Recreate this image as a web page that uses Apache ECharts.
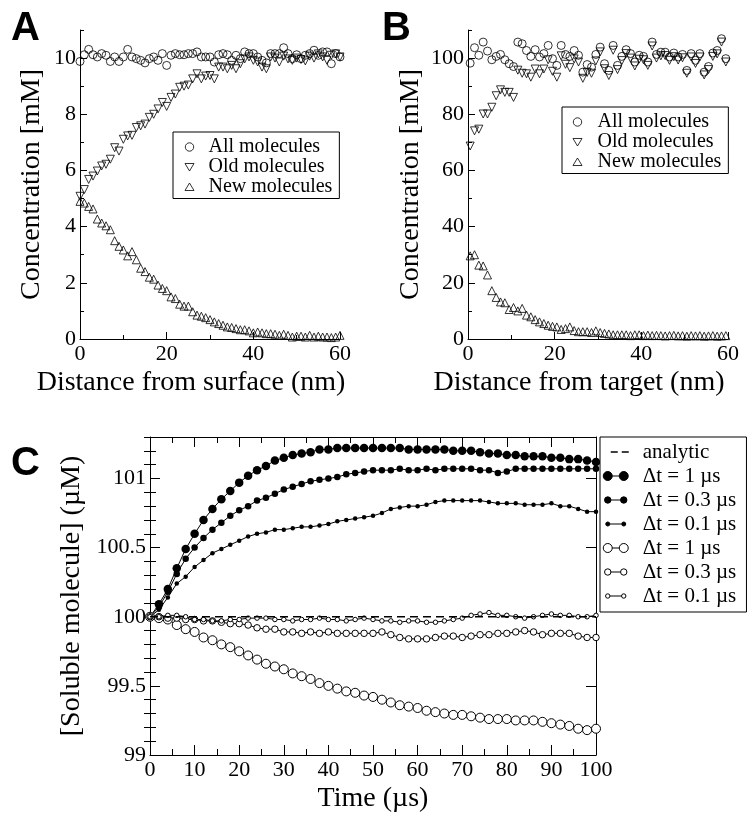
<!DOCTYPE html>
<html><head><meta charset="utf-8">
<script src="https://cdn.jsdelivr.net/npm/echarts@6/dist/echarts.min.js"></script>
<style>html,body{margin:0;padding:0;background:#fff}#c{width:752px;height:821px}</style>
</head><body><div id="c"></div>
<script>
// ---------- Panel A (distance from surface) ----------
const distA = [0,1,2,3,4,5,6,7,8,9,10,11,12,13,14,15,16,17,18,19,20,21,22,23,24,25,26,27,28,29,30,31,32,33,34,35,36,37,38,39,40,41,42,43,44,45,46,47,48,49,50,51,52,53,54,55,56,57,58,59,60];
const allA = [9.88,10.12,10.31,10.12,10.04,10.16,10.10,9.88,10.04,9.88,10.04,10.31,10.04,9.98,9.92,9.83,9.98,10.04,9.92,10.16,9.74,10.10,10.16,10.12,10.12,10.16,10.16,10.22,10.04,10.04,10.04,9.86,10.12,10.16,10.12,9.92,10.10,9.98,10.22,10.16,10.16,10.04,9.92,9.83,10.16,10.16,10.16,10.37,10.16,9.98,10.12,9.98,10.10,10.16,10.28,10.10,10.22,10.22,9.80,10.16,10.04];
const oldA = [5.08,5.32,5.68,5.80,5.98,6.16,6.22,6.40,6.81,6.69,7.11,7.23,7.25,7.53,7.59,7.65,7.89,8.00,8.19,8.42,8.28,8.60,8.72,8.96,9.00,9.04,9.26,9.44,9.26,9.36,9.38,9.26,9.68,9.68,9.62,9.74,9.62,9.80,9.97,10.04,9.92,9.86,9.68,9.62,10.04,10.00,9.86,10.07,9.97,9.92,10.00,9.95,9.90,10.07,10.00,10.15,10.04,9.92,10.10,10.15,10.04];
const newA = [4.90,4.84,4.72,4.63,4.27,4.13,4.03,3.89,3.50,3.30,3.17,2.96,3.11,2.82,2.52,2.40,2.20,2.13,1.92,1.80,1.72,1.50,1.44,1.24,1.17,1.17,0.97,0.85,0.81,0.76,0.69,0.61,0.55,0.49,0.43,0.41,0.37,0.33,0.33,0.29,0.22,0.25,0.22,0.19,0.19,0.17,0.13,0.17,0.13,0.07,0.10,0.10,0.07,0.13,0.07,0.10,0.07,0.07,0.05,0.07,0.13];
const ticksAx = [0,20,40,60], minorAx = [10,30,50];
const ticksAy = [0,2,4,6,8,10], minorAy = [1,3,5,7,9,11];

// ---------- Panel B (distance from target) ----------
const distB = [0.5,1.5,2.5,3.5,4.5,5.5,6.5,7.5,8.5,9.5,10.5,11.5,12.5,13.5,14.5,15.5,16.5,17.5,18.5,19.5,20.5,21.5,22.5,23.5,24.5,25.5,26.5,27.5,28.5,29.5,30.5,31.5,32.5,33.5,34.5,35.5,36.5,37.5,38.5,39.5,40.5,41.5,42.5,43.5,44.5,45.5,46.5,47.5,48.5,49.5,50.5,51.5,52.5,53.5,54.5,55.5,56.5,57.5,58.5,59.5];
const allB = [98.2,103.7,101,105.7,102.5,99.4,100.6,101.3,99.4,98,97,105.7,105.1,102.7,100.6,103,100.4,101.6,104.5,99.8,97.4,104.5,101.3,100.6,102.7,101,95,97.7,96.8,101.3,103.9,98,95.6,104.5,97.4,100.6,103,101.6,98.6,101,100.6,98.6,105.7,101.3,102.1,102.1,100.4,101.8,100.4,101.3,95.6,101.6,99.2,101.6,95,97,101.8,102.7,106.9,99.8];
const oldB = [68.7,74.1,74.7,80.1,80.1,82.5,86.6,88.7,87.8,87.8,86.0,95.7,94.6,94.4,93.2,96.1,94.4,96.1,99.4,95.3,93.2,100.8,97.8,96.6,99.7,98.6,92.8,94.9,94.6,99.0,102.2,96.2,93.8,102.8,95.9,99.1,101.6,100.0,97.2,99.6,99.4,97.4,104.3,100.0,100.8,100.9,99.2,100.5,99.3,100.1,94.6,100.4,98.1,100.4,94.0,95.9,100.6,101.5,105.7,98.6];
const newB = [29.6,30.0,26.3,26.0,22.8,17.2,14.8,13.2,12.9,10.5,11.2,10.0,10.9,8.5,7.9,6.9,6.1,5.5,4.9,4.5,4.3,3.4,3.7,4.3,3.0,2.6,2.6,2.6,2.3,2.9,2.3,2.0,1.8,1.5,1.5,1.5,1.5,1.2,1.5,1.5,1.2,1.4,1.2,1.3,1.2,1.1,1.2,1.3,1.1,1.2,1.0,1.2,1.1,1.2,1.0,1.1,1.2,1.0,1.1,1.2];
const ticksBx = [0,20,40,60], minorBx = [10,30,50];
const ticksBy = [0,20,40,60,80,100], minorBy = [10,30,50,70,90,110];

// ---------- Panel C (time course) ----------
const tC = [0,2,4,6,8,10,12,14,16,18,20,22,24,26,28,30,32,34,36,38,40,42,44,46,48,50,52,54,56,58,60,62,64,66,68,70,72,74,76,78,80,82,84,86,88,90,92,94,96,98,100];
const tAnalytic = [0,100];
const analytic = [100,100];
const filled1 = [100.00,100.09,100.20,100.35,100.49,100.60,100.70,100.78,100.85,100.91,100.97,101.02,101.06,101.09,101.13,101.15,101.17,101.18,101.19,101.21,101.21,101.22,101.22,101.22,101.22,101.22,101.22,101.22,101.22,101.21,101.21,101.21,101.21,101.21,101.20,101.20,101.20,101.19,101.18,101.18,101.17,101.17,101.16,101.16,101.16,101.15,101.15,101.14,101.14,101.13,101.12];
const filled03 = [100.00,100.07,100.18,100.31,100.42,100.50,100.57,100.63,100.68,100.73,100.77,100.80,100.84,100.86,100.89,100.92,100.94,100.96,100.98,100.99,101.00,101.01,101.03,101.04,101.05,101.06,101.06,101.06,101.07,101.06,101.06,101.07,101.06,101.07,101.07,101.07,101.07,101.06,101.06,101.04,101.05,101.07,101.07,101.07,101.07,101.07,101.07,101.07,101.07,101.07,101.07];
const filled01 = [100.00,100.05,100.14,100.24,100.29,100.36,100.41,100.46,100.49,100.52,100.55,100.58,100.60,100.61,100.63,100.63,100.64,100.65,100.65,100.66,100.67,100.69,100.70,100.71,100.72,100.73,100.75,100.78,100.79,100.80,100.80,100.81,100.83,100.84,100.84,100.84,100.84,100.84,100.83,100.82,100.82,100.82,100.81,100.81,100.81,100.82,100.80,100.80,100.78,100.76,100.76];
const open1 = [100.00,99.99,99.98,99.94,99.91,99.89,99.85,99.83,99.80,99.78,99.75,99.72,99.69,99.66,99.64,99.62,99.59,99.57,99.55,99.52,99.50,99.48,99.46,99.45,99.43,99.42,99.40,99.38,99.36,99.35,99.34,99.32,99.31,99.30,99.29,99.29,99.28,99.27,99.26,99.26,99.26,99.25,99.25,99.25,99.24,99.23,99.22,99.21,99.19,99.18,99.19];
const open03 = [100.00,100.00,99.99,99.99,99.98,99.98,99.97,99.97,99.96,99.95,99.95,99.94,99.92,99.91,99.91,99.89,99.89,99.88,99.89,99.88,99.89,99.88,99.88,99.88,99.88,99.88,99.89,99.87,99.85,99.84,99.84,99.84,99.85,99.86,99.86,99.85,99.86,99.87,99.87,99.88,99.88,99.89,99.90,99.89,99.87,99.88,99.88,99.88,99.86,99.85,99.85];
const open01 = [100.00,100.00,100.01,100.01,100.00,99.98,99.98,99.97,99.97,99.98,99.98,99.99,99.99,99.99,99.98,99.98,99.97,99.98,99.98,99.99,99.98,99.98,99.97,99.98,99.99,99.98,99.97,99.97,99.96,99.97,99.97,99.96,99.96,99.97,99.98,99.99,100.01,100.02,100.03,100.01,100.01,100.00,99.99,100.00,100.01,100.02,100.01,100.01,100.00,100.00,100.01];
const ticksCx = [0,10,20,30,40,50,60,70,80,90,100], minorCx = [5,15,25,35,45,55,65,75,85,95];
const ticksCy = [99,99.5,100,100.5,101];
const minorCy = [99.1,99.2,99.3,99.4,99.6,99.7,99.8,99.9,100.1,100.2,100.3,100.4,100.6,100.7,100.8,100.9,101.1,101.2,101.3];

const SERIF = 'Liberation Serif';
const pairs = (xs, ys) => xs.map((x, i) => [x, ys[i]]);

function majorAxis(o) {
  return Object.assign({
    type: 'value', splitLine: {show: false},
    axisLine: {show: true, onZero: false, lineStyle: {color: '#000', width: 1}},
    axisTick: {show: true, inside: true, length: 7, customValues: o.ticks, lineStyle: {color: '#000', width: 1}},
    axisLabel: {show: o.labels !== false, customValues: o.ticks, color: '#000', fontFamily: SERIF, fontSize: 22, margin: 4,
      formatter: '{s|{value}}', rich: {s: {fontFamily: SERIF, fontSize: 22, color: '#000'}}},
    minorTick: {show: false},
    nameLocation: 'middle',
    nameTextStyle: {color: '#000', fontFamily: SERIF, fontSize: 28},
    silent: true
  }, o.extra || {});
}
function minorAxis(o) {
  return Object.assign({
    type: 'value', splitLine: {show: false},
    axisLine: {show: false},
    axisTick: {show: true, inside: true, length: o.len || 4, customValues: o.ticks, lineStyle: {color: '#000', width: 1}},
    axisLabel: {show: false},
    minorTick: {show: false},
    silent: true
  }, o.extra || {});
}

const openStyle = {color: 'rgba(0,0,0,0)', borderColor: '#000', borderWidth: 1};
const legStyle = {color: 'rgba(0,0,0,0)', borderColor: '#000', borderWidth: 1};

const option = {
  animation: false,
  backgroundColor: '#fff',
  textStyle: {fontFamily: SERIF},
  grid: [
    {left: 80, top: 30, width: 260, height: 309},
    {left: 468, top: 30, width: 260, height: 309},
    {left: 150, top: 437, width: 446, height: 318}
  ],
  xAxis: [
    majorAxis({ticks: ticksAx, extra: {gridIndex: 0, position: 'bottom', min: 0, max: 60, name: 'Distance from surface (nm)', nameGap: 30,
      nameTextStyle: {color: '#000', fontFamily: SERIF, fontSize: 28, padding: [0, 38, 0, 0]}}}),
    minorAxis({ticks: minorAx, extra: {gridIndex: 0, position: 'bottom', min: 0, max: 60}}),
    majorAxis({ticks: ticksBx, extra: {gridIndex: 1, position: 'bottom', min: 0, max: 60, name: 'Distance from target (nm)', nameGap: 30,
      nameTextStyle: {color: '#000', fontFamily: SERIF, fontSize: 28, padding: [0, 38, 0, 0]}}}),
    minorAxis({ticks: minorBx, extra: {gridIndex: 1, position: 'bottom', min: 0, max: 60}}),
    majorAxis({ticks: ticksCx, extra: {gridIndex: 2, position: 'bottom', min: 0, max: 100, name: 'Time (\u00b5s)', nameGap: 30,
      axisTick: {show: true, inside: true, length: 10, customValues: ticksCx, lineStyle: {color: '#000', width: 1}}}}),
    minorAxis({ticks: minorCx, len: 6, extra: {gridIndex: 2, position: 'bottom', min: 0, max: 100}}),
    majorAxis({ticks: ticksCx, labels: false, extra: {gridIndex: 2, position: 'top', min: 0, max: 100,
      axisTick: {show: true, inside: true, length: 10, customValues: ticksCx, lineStyle: {color: '#000', width: 1}}}}),
    minorAxis({ticks: minorCx, len: 6, extra: {gridIndex: 2, position: 'top', min: 0, max: 100}})
  ],
  yAxis: [
    majorAxis({ticks: ticksAy, extra: {gridIndex: 0, position: 'left', min: 0, max: 11, name: 'Concentration [mM]', nameGap: 34}}),
    minorAxis({ticks: minorAy, extra: {gridIndex: 0, position: 'left', min: 0, max: 11}}),
    majorAxis({ticks: ticksBy, extra: {gridIndex: 1, position: 'left', min: 0, max: 110, name: 'Concentration [mM]', nameGap: 43}}),
    minorAxis({ticks: minorBy, extra: {gridIndex: 1, position: 'left', min: 0, max: 110}}),
    majorAxis({ticks: ticksCy, extra: {gridIndex: 2, position: 'left', min: 99, max: 101.3, name: '[Soluble molecule] (\u00b5M)', nameGap: 59,
      axisTick: {show: true, inside: true, length: 10, customValues: ticksCy, lineStyle: {color: '#000', width: 1}}}}),
    minorAxis({ticks: minorCy, len: 6, extra: {gridIndex: 2, position: 'left', min: 99, max: 101.3}}),
    majorAxis({ticks: ticksCy, labels: false, extra: {gridIndex: 2, position: 'right', min: 99, max: 101.3,
      axisTick: {show: true, inside: true, length: 10, customValues: ticksCy, lineStyle: {color: '#000', width: 1}}}}),
    minorAxis({ticks: minorCy, len: 6, extra: {gridIndex: 2, position: 'right', min: 99, max: 101.3}})
  ],
  legend: [
    {orient: 'vertical', left: 173, top: 132,
     padding: [5, 7, 1.5, 2], itemGap: 0, itemWidth: 28, itemHeight: 9, symbolKeepAspect: true,
     borderColor: '#000', borderWidth: 1, backgroundColor: '#fff', selectedMode: false,
     textStyle: {color: '#000', fontFamily: SERIF, fontSize: 20, lineHeight: 18.5},
     data: [
       {name: 'All molecules', icon: 'path://M0,0L0,0M28,9L28,9M9.8,4.5a4.2,4.2 0 1,0 8.4,0a4.2,4.2 0 1,0 -8.4,0Z', itemStyle: legStyle},
       {name: 'Old molecules', icon: 'path://M0,0L0,0M28,9L28,9M9.5,1L18.5,1L14,8.5Z', itemStyle: legStyle},
       {name: 'New molecules', icon: 'path://M0,0L0,0M28,9L28,9M14,0.5L18.5,8L9.5,8Z', itemStyle: legStyle}
     ]},
    {orient: 'vertical', left: 562, top: 107,
     padding: [5, 7, 1.5, 0], itemGap: 0, itemWidth: 30, itemHeight: 9, symbolKeepAspect: true,
     borderColor: '#000', borderWidth: 1, backgroundColor: '#fff', selectedMode: false,
     textStyle: {color: '#000', fontFamily: SERIF, fontSize: 20, lineHeight: 18.5},
     data: [
       {name: 'All molecules', icon: 'path://M0,0L0,0M30,9L30,9M10.8,4.5a4.2,4.2 0 1,0 8.4,0a4.2,4.2 0 1,0 -8.4,0Z', itemStyle: legStyle},
       {name: 'Old molecules', icon: 'path://M0,0L0,0M30,9L30,9M10.5,1L19.5,1L15,8.5Z', itemStyle: legStyle},
       {name: 'New molecules', icon: 'path://M0,0L0,0M30,9L30,9M15,0.5L19.5,8L10.5,8Z', itemStyle: legStyle}
     ]},
    {orient: 'vertical', left: 600, top: 437, padding: [3, 5, 4, 2], itemGap: 0, itemWidth: 35, itemHeight: 10,
     symbolKeepAspect: true, borderColor: '#000', borderWidth: 1, backgroundColor: '#fff', selectedMode: false,
     textStyle: {color: '#000', fontFamily: SERIF, fontSize: 21, lineHeight: 24},
     data: [
       {name: 'analytic', icon: 'path://M0,0L0,0M35,10L35,10M8,5L15,5M19,5L26,5',
        itemStyle: {color: 'rgba(0,0,0,0)', borderColor: '#000', borderWidth: 1.5}},
       {name: '\u0394t = 1 \u00b5s', icon: 'path://M0,0L0,0M35,10L35,10M0.5,5a4.5,4.5 0 1,0 9,0a4.5,4.5 0 1,0 -9,0ZM9.5,5L16.5,5M16.5,5a4.5,4.5 0 1,0 9,0a4.5,4.5 0 1,0 -9,0Z',
        itemStyle: {color: '#000', borderColor: '#000', borderWidth: 1}},
       {name: '\u0394t = 0.3 \u00b5s', icon: 'path://M0,0L0,0M35,10L35,10M1.8,5a3.2,3.2 0 1,0 6.4,0a3.2,3.2 0 1,0 -6.4,0ZM8.2,5L17.8,5M17.8,5a3.2,3.2 0 1,0 6.4,0a3.2,3.2 0 1,0 -6.4,0Z',
        itemStyle: {color: '#000', borderColor: '#000', borderWidth: 1}},
       {name: '\u0394t = 0.1 \u00b5s', icon: 'path://M0,0L0,0M35,10L35,10M3,5a2,2 0 1,0 4,0a2,2 0 1,0 -4,0ZM7,5L19,5M19,5a2,2 0 1,0 4,0a2,2 0 1,0 -4,0Z',
        itemStyle: {color: '#000', borderColor: '#000', borderWidth: 1}},
       {name: '\u0394t = 1 \u00b5s ', icon: 'path://M0,0L0,0M35,10L35,10M0.5,5a4.5,4.5 0 1,0 9,0a4.5,4.5 0 1,0 -9,0ZM9.5,5L16.5,5M16.5,5a4.5,4.5 0 1,0 9,0a4.5,4.5 0 1,0 -9,0Z',
        itemStyle: {color: '#fff', borderColor: '#000', borderWidth: 1}},
       {name: '\u0394t = 0.3 \u00b5s ', icon: 'path://M0,0L0,0M35,10L35,10M1.8,5a3.2,3.2 0 1,0 6.4,0a3.2,3.2 0 1,0 -6.4,0ZM8.2,5L17.8,5M17.8,5a3.2,3.2 0 1,0 6.4,0a3.2,3.2 0 1,0 -6.4,0Z',
        itemStyle: {color: '#fff', borderColor: '#000', borderWidth: 1}},
       {name: '\u0394t = 0.1 \u00b5s ', icon: 'path://M0,0L0,0M35,10L35,10M2.8,5a2.2,2.2 0 1,0 4.4,0a2.2,2.2 0 1,0 -4.4,0ZM7.2,5L18.8,5M18.8,5a2.2,2.2 0 1,0 4.4,0a2.2,2.2 0 1,0 -4.4,0Z',
        itemStyle: {color: '#fff', borderColor: '#000', borderWidth: 1}}
     ]}
  ],
  graphic: [
    {type: 'text', left: 11, top: 9, style: {text: 'A', font: 'bold 40px "Liberation Sans", Arial, sans-serif', fill: '#000'}},
    {type: 'text', left: 382, top: 9, style: {text: 'B', font: 'bold 40px "Liberation Sans", Arial, sans-serif', fill: '#000'}},
    {type: 'text', left: 11, top: 444, style: {text: 'C', font: 'bold 40px "Liberation Sans", Arial, sans-serif', fill: '#000'}}
  ],
  series: [
    {type: 'scatter', name: 'All molecules', xAxisIndex: 0, yAxisIndex: 0, data: pairs(distA, allA), symbol: 'circle', symbolSize: 8, itemStyle: openStyle, silent: true},
    {type: 'scatter', name: 'Old molecules', xAxisIndex: 0, yAxisIndex: 0, data: pairs(distA, oldA), symbol: 'triangle', symbolRotate: 180, symbolSize: 8, itemStyle: openStyle, silent: true},
    {type: 'scatter', name: 'New molecules', xAxisIndex: 0, yAxisIndex: 0, data: pairs(distA, newA), symbol: 'triangle', symbolSize: 8, itemStyle: openStyle, silent: true},
    {type: 'scatter', name: 'All molecules', xAxisIndex: 2, yAxisIndex: 2, data: pairs(distB, allB), symbol: 'circle', symbolSize: 8, itemStyle: openStyle, silent: true},
    {type: 'scatter', name: 'Old molecules', xAxisIndex: 2, yAxisIndex: 2, data: pairs(distB, oldB), symbol: 'triangle', symbolRotate: 180, symbolSize: 8, itemStyle: openStyle, silent: true},
    {type: 'scatter', name: 'New molecules', xAxisIndex: 2, yAxisIndex: 2, data: pairs(distB, newB), symbol: 'triangle', symbolSize: 8, itemStyle: openStyle, silent: true},
    {type: 'line', name: 'analytic', xAxisIndex: 4, yAxisIndex: 4, data: pairs(tAnalytic, analytic), symbol: 'none', z: 5,
     lineStyle: {color: '#000', width: 1.5, type: [8, 5]}, itemStyle: {color: '#000'}, silent: true},
    {type: 'line', name: '\u0394t = 1 \u00b5s', xAxisIndex: 4, yAxisIndex: 4, data: pairs(tC, filled1), symbol: 'circle', symbolSize: 8.5, clip: false,
     lineStyle: {color: '#000', width: 1}, itemStyle: {color: '#000', borderColor: '#000', borderWidth: 0}, silent: true},
    {type: 'line', name: '\u0394t = 0.3 \u00b5s', xAxisIndex: 4, yAxisIndex: 4, data: pairs(tC, filled03), symbol: 'circle', symbolSize: 6.5, clip: false,
     lineStyle: {color: '#000', width: 1}, itemStyle: {color: '#000', borderColor: '#000', borderWidth: 0}, silent: true},
    {type: 'line', name: '\u0394t = 0.1 \u00b5s', xAxisIndex: 4, yAxisIndex: 4, data: pairs(tC, filled01), symbol: 'circle', symbolSize: 4.5, clip: false,
     lineStyle: {color: '#000', width: 1}, itemStyle: {color: '#000', borderColor: '#000', borderWidth: 0}, silent: true},
    {type: 'line', name: '\u0394t = 1 \u00b5s ', xAxisIndex: 4, yAxisIndex: 4, data: pairs(tC, open1), symbol: 'circle', symbolSize: 9, clip: false,
     lineStyle: {color: '#000', width: 1}, itemStyle: {color: '#fff', borderColor: '#000', borderWidth: 1}, silent: true},
    {type: 'line', name: '\u0394t = 0.3 \u00b5s ', xAxisIndex: 4, yAxisIndex: 4, data: pairs(tC, open03), symbol: 'circle', symbolSize: 6.5, clip: false,
     lineStyle: {color: '#000', width: 1}, itemStyle: {color: '#fff', borderColor: '#000', borderWidth: 1}, silent: true},
    {type: 'line', name: '\u0394t = 0.1 \u00b5s ', xAxisIndex: 4, yAxisIndex: 4, data: pairs(tC, open01), symbol: 'circle', symbolSize: 4.5, clip: false,
     lineStyle: {color: '#000', width: 1}, itemStyle: {color: '#fff', borderColor: '#000', borderWidth: 1}, silent: true}
  ]
};
const chart = echarts.init(document.getElementById('c'), null, {renderer: 'canvas'});
chart.setOption(option);
</script>
</body></html>
